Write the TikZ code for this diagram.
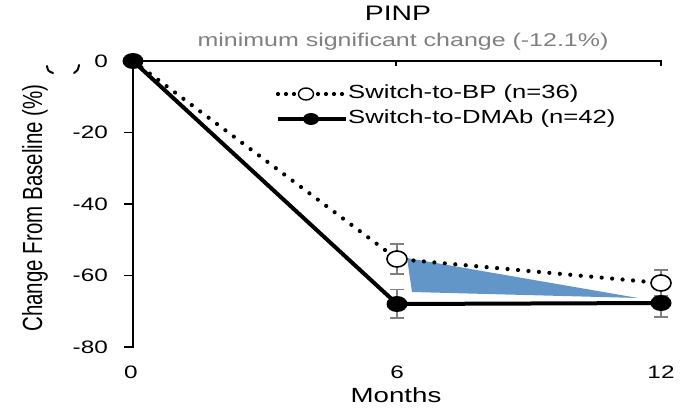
\documentclass[tikz,border=0pt]{standalone}
\usepackage{fontspec}
\setmainfont{Liberation Sans}[FakeStretch=1.35]
\newfontfamily\ylabfont{Liberation Sans}
\usepackage{graphicx}
\usetikzlibrary{shapes.geometric}
\definecolor{blueshade}{RGB}{98,150,201}
\definecolor{errgray}{RGB}{128,128,128}
\definecolor{subgray}{RGB}{128,128,128}
\begin{document}
\begin{tikzpicture}[x=1pt,y=-1pt,
  axisline/.style={line width=1.3pt, black},
  errbar/.style={line width=1.8pt, draw=errgray},
  bpline/.style={line width=4.2pt, dash pattern=on 0pt off 10.5pt, line cap=round},
  dmline/.style={line width=4pt, line join=round},
  opendot/.style={ellipse, draw, line width=1.6pt, fill=white, minimum width=20pt, minimum height=16pt, inner sep=0pt},
  filldot/.style={ellipse, fill=black, minimum width=21pt, minimum height=16pt, inner sep=0pt},
  legopen/.style={ellipse, draw, line width=1.4pt, fill=white, minimum width=15pt, minimum height=12pt, inner sep=0pt},
  legfill/.style={ellipse, fill=black, minimum width=16pt, minimum height=12pt, inner sep=0pt},
  ticklab/.style={font=\fontsize{18}{20}\selectfont, inner sep=0pt},
  legtext/.style={font=\fontsize{19}{22}\selectfont, inner sep=0pt, anchor=west},
]
\useasboundingbox (0,0) rectangle (684,407);
% data coordinates
\coordinate (p0) at (133,61);
\coordinate (pb6) at (397,259);
\coordinate (pb12) at (661,283);
\coordinate (pd6) at (397,304);
\coordinate (pd12) at (661,303);
% axes
\coordinate (ax0) at (133,61);
\coordinate (ax6) at (396,61);
\coordinate (ax12) at (661,61);
\coordinate (ay80) at (133,347);
\draw[axisline] (ax0) -- (ax12) -- ++(0,5);
\draw[axisline] (ax6) -- ++(0,5);
\draw[axisline] (ax0) -- (ay80) -- ++(-9,0);
\foreach \yy in {132.5,204,275.5} \draw[axisline] (133,\yy) -- ++(-9,0);
% tick labels
\node[ticklab, anchor=east] (y0) at (108,61) {0};
\node[ticklab, anchor=east] (y20) at (108,132.5) {-20};
\node[ticklab, anchor=east] (y40) at (108,204) {-40};
\node[ticklab, anchor=east] (y60) at (108,275.5) {-60};
\node[ticklab, anchor=east] (y80) at (108,347) {-80};
\node[ticklab] (x0) at (131,372) {0};
\node[ticklab] (x6) at (397,372) {6};
\node[ticklab] (x12) at (661,372) {12};
\node[font=\fontsize{20.5}{22}\selectfont, inner sep=0pt] (xlab) at (396,395) {Months};
\node[rotate=90, inner sep=0pt] (ylab) at (35,208) {\ylabfont\fontsize{20.5}{24}\selectfont\scalebox{1}[1.35]{Change From Baseline (\%)}};
% titles
\node[font=\fontsize{21}{24}\selectfont, inner sep=0pt] (title) at (398,13) {PINP};
\node[font=\fontsize{18.5}{20}\selectfont, text=subgray, inner sep=0pt] (sub) at (403,42) {minimum significant change (-12.1\%)};
% stray marks
\draw[line width=2pt, line cap=round] (47,66) .. controls (48,71) .. (53,73);
\draw[line width=2pt, line cap=round] (79,65) .. controls (78,70) .. (74,73);
% error bars
\foreach \xx/\ya/\yb in {397/244/274, 397/289.5/318, 661/270/296, 661/289/317}{
  \draw[errbar] (\xx,\ya) -- (\xx,\yb);
  \draw[errbar] (\xx-7,\ya) -- (\xx+7,\ya);
  \draw[errbar] (\xx-7,\yb) -- (\xx+7,\yb);
}
% shaded triangle
\fill[blueshade] (407,258) -- (412,292) -- (638,298) -- cycle;
% series lines
\draw[dmline] (p0) -- (pd6) -- (pd12);
\draw[bpline] (p0) -- (pb6) -- (pb12);
% markers
\node[filldot] (m0) at (p0) {};
\node[opendot] (mb6) at (pb6) {};
\node[opendot] (mb12) at (pb12) {};
\node[filldot] (md6) at (pd6) {};
\node[filldot] (md12) at (pd12) {};
% legend
\coordinate (la1) at (278,94);
\coordinate (lb1) at (344,94);
\coordinate (la2) at (278,119);
\coordinate (lb2) at (346,119);
\draw[bpline, dash pattern=on 0pt off 8pt] (la1) -- (lb1);
\draw[dmline] (la2) -- (lb2);
\node[legopen] (lg1) at (306,94) {};
\node[legfill] (lg2) at (311,119) {};
\node[legtext] (lt1) at (348,94) {Switch-to-BP (n=36)};
\node[legtext] (lt2) at (348,119) {Switch-to-DMAb (n=42)};
\end{tikzpicture}
\end{document}
